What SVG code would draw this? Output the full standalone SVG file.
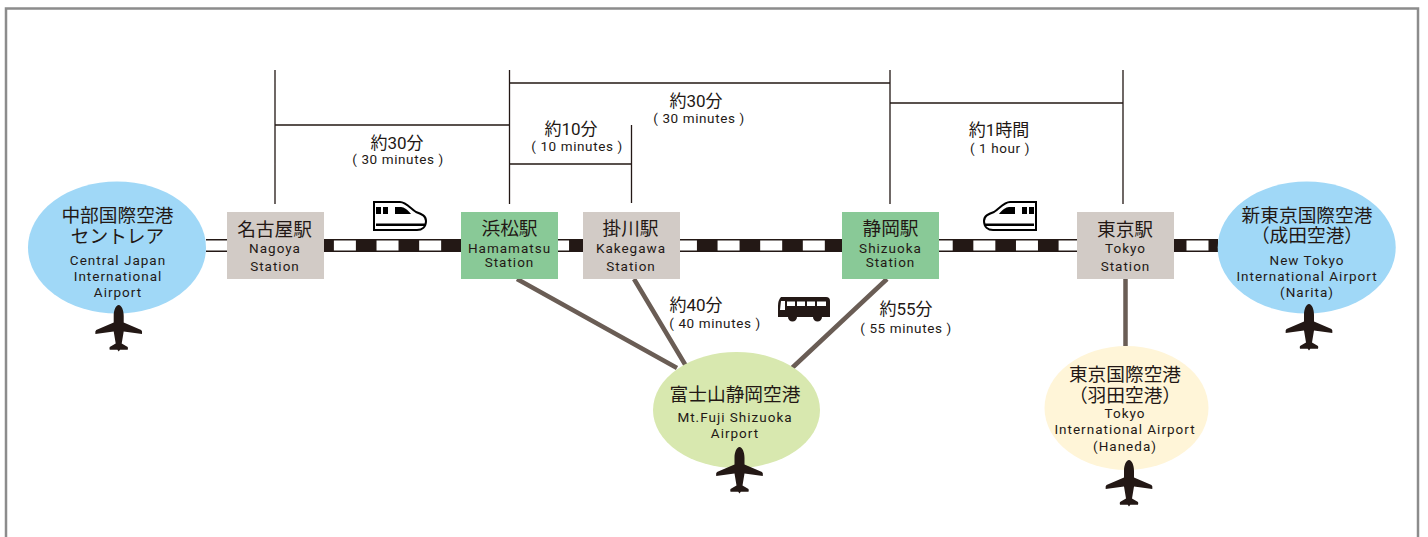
<svg xmlns="http://www.w3.org/2000/svg" xmlns:xlink="http://www.w3.org/1999/xlink" width="1428" height="537" viewBox="0 0 1428 537">
<style>
text{font-family:Roboto,"Noto Sans CJK JP",sans-serif;fill:#231815;text-anchor:middle}
.j{font-size:18.7px;font-weight:400}
.e{font-size:13.500px;font-weight:400;letter-spacing:1px}
.t{font-size:17px;font-weight:400}
.m{font-size:13.500px;font-weight:400;letter-spacing:.6px}
.br{stroke:#231815;stroke-width:1.3;fill:none}
.rd{stroke:#6a5d55;stroke-width:4.5;fill:none}
.g{fill:#d2cbc6}.s{fill:#89c997}
</style>
<defs>
<path id="plane" fill="#231815" d="M0 0C2.800 0 5 5 5 11L5 17.500L22.500 25Q23.800 26 23.300 29L5 26.500L3 38.500L9 42Q9.500 43 9 44.800L1.300 44.800L0 46.500L-1.300 44.800L-9 44.800Q-9.500 43-9 42L-3 38.500L-5 26.500L-23.300 29Q-23.800 26-22.500 25L-5 17.500L-5 11C-5 5-2.800 0 0 0Z"/>
<g id="train">
<path fill="#fff" stroke="#000" stroke-width="2" d="M1 1H27C33 1 38 8 43 11C49 13 53 15 53 20C53 26 49 29 44 29H1Z"/>
<path fill="#000" d="M3 6H8V13H3ZM10 6H15V13H10ZM22 6H28C31 6 35 9 38 13H22ZM3 22.500H52V25H3Z"/>
</g>
</defs>
<rect x="6" y="8.500" width="1412" height="540" fill="#fff" stroke="#8c8c8c" stroke-width="2.500"/>
<g id="connectors">
<path class="br" d="M275 70V204M509.500 70V204M890 70V204M1123 70V204M631.500 125V203M275 125H509.500M509.500 83H890M890 103H1123M509.500 164H631.500"/>
<path class="rd" d="M517 279L677 368M634 279L686 366M887 279L792 368M1125.500 279V346"/>
<line x1="206" y1="245.500" x2="1218" y2="245.500" stroke="#231815" stroke-width="13"/>
<line x1="206" y1="245.500" x2="1218" y2="245.500" stroke="#fff" stroke-width="10" stroke-dasharray="22 20.630"/>
</g>
<g id="train-west"><use xlink:href="#train" href="#train" x="373" y="201"/></g>
<g id="train-east"><use xlink:href="#train" href="#train" transform="translate(1037 201) scale(-1 1)"/></g>
<g id="bus">
<path fill="#231815" d="M781 297H826Q830 297 830 301V317H822A4.500 4.500 0 0 1 813 317H797A4.500 4.500 0 0 1 788 317H778V306Q778 300 781 297Z"/>
<path fill="#fff" d="M781 301H785V310H780ZM787 301.500H795V306H787ZM797 301.500H805V306H797ZM807 301.500H815V306H807ZM817 301.500H826V306H817Z"/>
</g>
<g id="label-nagoya-hamamatsu"><text class="t" x="397" y="149">約30分</text><text class="m" x="398" y="164">( 30 minutes )</text></g>
<g id="label-hamamatsu-kakegawa"><text class="t" x="571" y="135">約10分</text><text class="m" x="577" y="151">( 10 minutes )</text></g>
<g id="label-hamamatsu-shizuoka"><text class="t" x="696" y="107">約30分</text><text class="m" x="699" y="123">( 30 minutes )</text></g>
<g id="label-shizuoka-tokyo"><text class="t" x="999" y="136">約1時間</text><text class="m" x="1000" y="153">( 1 hour )</text></g>
<g id="label-kakegawa-fuji"><text class="t" x="696" y="311">約40分</text><text class="m" x="715" y="328">( 40 minutes )</text></g>
<g id="label-shizuoka-fuji"><text class="t" x="906" y="315">約55分</text><text class="m" x="906" y="333">( 55 minutes )</text></g>
<g id="airport-chubu"><ellipse cx="117" cy="247.500" rx="89" ry="66" fill="#a0d8f7"/><text class="j" x="117.500" y="222">中部国際空港</text><text class="j" x="117.500" y="243">セントレア</text><text class="e" x="118" y="265">Central Japan</text><text class="e" x="118" y="281">International</text><text class="e" x="118" y="297">Airport</text><use xlink:href="#plane" href="#plane" x="118.700" y="305"/></g>
<g id="airport-narita"><ellipse cx="1306.700" cy="247.500" rx="89" ry="66" fill="#a0d8f7"/><text class="j" x="1307" y="222">新東京国際空港</text><text class="j" x="1307" y="242">（成田空港）</text><text class="e" x="1307" y="265">New Tokyo</text><text class="e" x="1307" y="281">International Airport</text><text class="e" x="1307" y="297">(Narita)</text><use xlink:href="#plane" href="#plane" x="1309" y="304"/></g>
<g id="airport-fuji"><ellipse cx="736.500" cy="410" rx="83.500" ry="58" fill="#d8e8af"/><text class="j" x="735" y="401">富士山静岡空港</text><text class="e" x="735" y="422">Mt.Fuji Shizuoka</text><text class="e" x="735" y="438">Airport</text><use xlink:href="#plane" href="#plane" x="739.500" y="447"/></g>
<g id="airport-haneda"><ellipse cx="1126.500" cy="408" rx="82" ry="62" fill="#fff5d8"/><text class="j" x="1125" y="381">東京国際空港</text><text class="j" x="1125" y="402">（羽田空港）</text><text class="e" x="1125" y="418">Tokyo</text><text class="e" x="1125" y="434">International Airport</text><text class="e" x="1125" y="451">(Haneda)</text><use xlink:href="#plane" href="#plane" x="1129" y="460"/></g>
<g id="station-nagoya"><rect class="g" x="227" y="212" width="97" height="67"/><text class="j" x="274.500" y="236">名古屋駅</text><text class="e" x="275" y="253">Nagoya</text><text class="e" x="275" y="271">Station</text></g>
<g id="station-hamamatsu"><rect class="s" x="461" y="212" width="97" height="67"/><text class="j" x="509.500" y="235">浜松駅</text><text class="e" x="509.500" y="253">Hamamatsu</text><text class="e" x="509.500" y="267">Station</text></g>
<g id="station-kakegawa"><rect class="g" x="583" y="212" width="97" height="67"/><text class="j" x="630.500" y="235">掛川駅</text><text class="e" x="631" y="253">Kakegawa</text><text class="e" x="631" y="271">Station</text></g>
<g id="station-shizuoka"><rect class="s" x="842" y="212" width="97" height="67"/><text class="j" x="890.500" y="235">静岡駅</text><text class="e" x="890.500" y="253">Shizuoka</text><text class="e" x="890.500" y="267">Station</text></g>
<g id="station-tokyo"><rect class="g" x="1077" y="212" width="97" height="67"/><text class="j" x="1125" y="236">東京駅</text><text class="e" x="1125.500" y="253">Tokyo</text><text class="e" x="1125.500" y="271">Station</text></g>
</svg>
